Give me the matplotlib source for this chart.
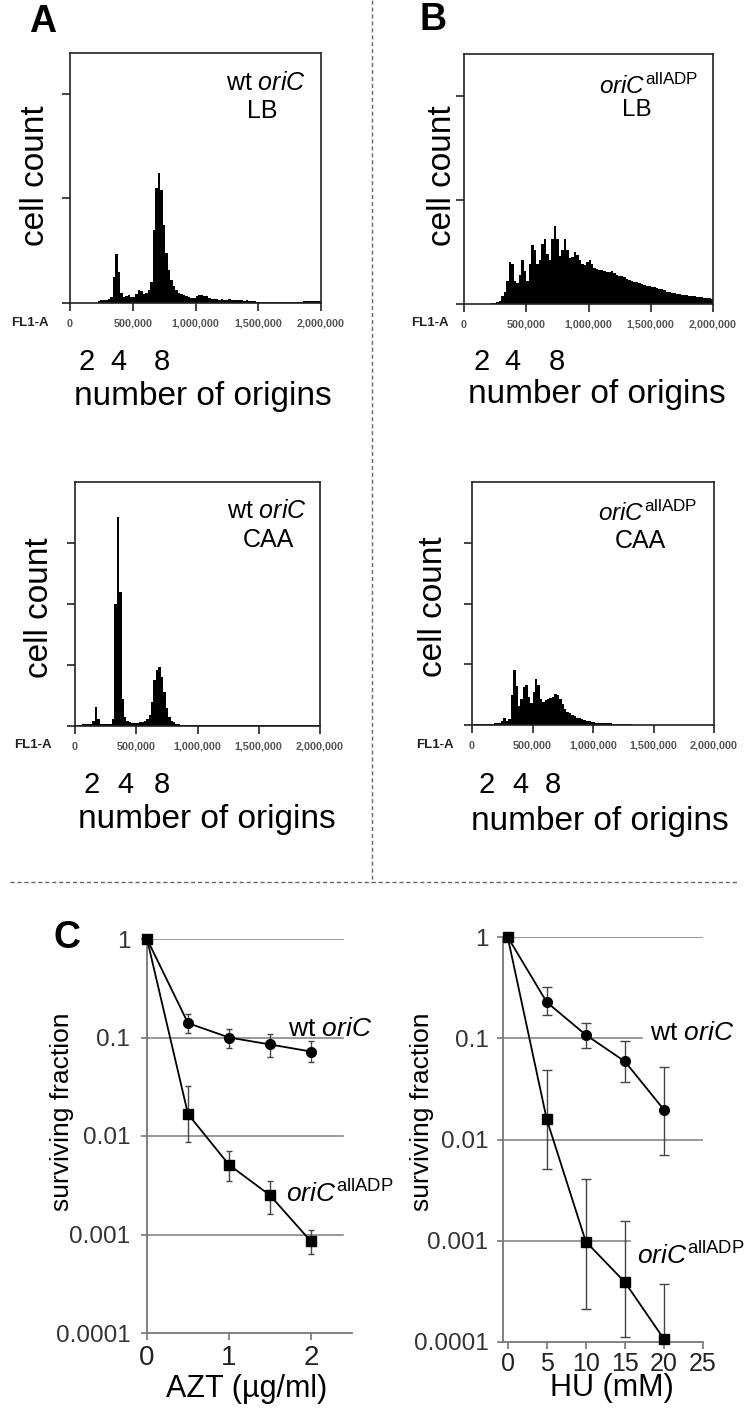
import matplotlib
matplotlib.use('Agg')
import matplotlib.pyplot as plt
import numpy as np
from matplotlib.lines import Line2D
from matplotlib.ticker import NullLocator

plt.rcParams['font.family'] = ['Liberation Sans', 'DejaVu Sans']
plt.rcParams['mathtext.fontset'] = 'custom'
plt.rcParams['mathtext.rm'] = 'Liberation Sans'
plt.rcParams['mathtext.it'] = 'Liberation Sans:italic'
plt.rcParams['mathtext.bf'] = 'Liberation Sans:bold'

# ---------------- data ----------------
FL_MIN, FL_MAX = 0, 2_000_000
FL_TICKS = [0, 500_000, 1_000_000, 1_500_000, 2_000_000]
FL_TICK_LABELS = ['0', '500,000', '1,000,000', '1,500,000', '2,000,000']

# flow cytometry histograms, 100 bins of 20,000 FL1-A units (counts in tick units x100)
A_LB = [0, 0, 0, 0, 0, 0, 0, 0, 0, 0,
        0, 2, 3, 3, 3, 4, 6, 25, 47, 30,
        10, 6, 7, 8, 6, 6, 9, 12, 11, 9,
        10, 12, 20, 70, 110, 124, 108, 75, 48, 32,
        22, 16, 12, 10, 9, 8, 7, 6, 5, 5,
        7, 8, 8, 7, 7, 5, 4, 4, 4, 3,
        4, 3, 3, 4, 3, 3, 3, 3, 3, 2,
        3, 2, 2, 2, 1, 1, 1, 1, 1, 1,
        1, 1, 1, 1, 1, 1, 1, 1, 1, 1,
        1, 1, 1, 2, 2, 2, 2, 2, 2, 2]

B_LB = [0, 0, 0, 0, 0, 0, 0, 0, 0, 0,
        0, 1, 1, 2, 3, 8, 12, 22, 40, 38,
        22, 20, 28, 42, 32, 22, 38, 57, 52, 38,
        42, 58, 62, 48, 42, 62, 75, 62, 46, 52,
        62, 52, 44, 45, 50, 47, 42, 38, 37, 40,
        42, 38, 35, 34, 33, 33, 32, 31, 31, 32,
        30, 28, 27, 27, 26, 24, 23, 22, 21, 21,
        20, 19, 18, 17, 17, 16, 16, 15, 14, 14,
        13, 12, 12, 11, 11, 10, 10, 9, 9, 9,
        8, 8, 8, 7, 7, 7, 6, 6, 6, 5]

A_CAA = [0, 2, 2, 3, 3, 3, 4, 8, 31, 12,
         4, 3, 3, 4, 4, 12, 200, 343, 220, 45,
         15, 8, 6, 5, 5, 5, 6, 7, 9, 12,
         18, 40, 75, 92, 97, 80, 55, 30, 15, 9,
         6, 4, 3, 2, 2, 1, 1, 1, 1, 1,
         1, 1, 1, 1, 1, 1, 1, 1, 1, 1,
         1, 1, 1, 1, 1, 1, 1, 1, 1, 1,
         1, 1, 1, 1, 1, 2, 2, 2, 2, 2,
         2, 2, 2, 2, 2, 2, 2, 2, 2, 2,
         2, 2, 2, 2, 2, 2, 2, 2, 1, 1]

B_CAA = [0, 1, 2, 2, 2, 2, 2, 2, 2, 3,
         3, 4, 6, 11, 6, 10, 50, 90, 65, 32,
         42, 62, 66, 46, 36, 55, 76, 66, 42, 38,
         41, 43, 44, 46, 51, 49, 42, 34, 26, 22,
         19, 17, 15, 12, 11, 10, 8, 7, 6, 5,
         5, 4, 4, 4, 3, 3, 3, 3, 2, 2,
         2, 2, 1, 1, 1, 1, 0, 0, 0, 0,
         0, 0, 0, 0, 0, 0, 0, 0, 0, 0,
         0, 0, 0, 0, 0, 0, 0, 0, 0, 0,
         0, 0, 0, 0, 0, 0, 0, 0, 0, 0]

# survival curves
AZT_x = [0, 0.5, 1.0, 1.5, 2.0]
AZT_wt = [1, 0.14, 0.10, 0.085, 0.072]
AZT_wt_lo = [1, 0.112, 0.079, 0.064, 0.056]
AZT_wt_hi = [1, 0.175, 0.121, 0.108, 0.093]
AZT_mut = [1, 0.0167, 0.0051, 0.0025, 0.00085]
AZT_mut_lo = [1, 0.0086, 0.0035, 0.0016, 0.00064]
AZT_mut_hi = [1, 0.032, 0.0071, 0.0035, 0.00112]

HU_x = [0, 5, 10, 15, 20]
HU_wt = [1, 0.227, 0.108, 0.059, 0.0197]
HU_wt_lo = [1, 0.171, 0.080, 0.037, 0.0071]
HU_wt_hi = [1, 0.32, 0.14, 0.093, 0.052]
HU_mut = [1, 0.0158, 0.00098, 0.00039, 0.000107]
HU_mut_lo = [1, 0.0051, 0.00021, 0.000113, 0.0001]
HU_mut_hi = [1, 0.049, 0.0041, 0.00155, 0.00037]

SURV_TICKS = [1e-4, 1e-3, 1e-2, 1e-1, 1]
SURV_TICK_LABELS = ['0.0001', '0.001', '0.01', '0.1', '1']
AZT_TICKS = [0, 1, 2]
HU_TICKS = [0, 5, 10, 15, 20, 25]

# ---------------- layout helpers ----------------
W, H = 750, 1417
fig = plt.figure(figsize=(W / 100, H / 100), dpi=100)


def box(x0, y0, x1, y1):
    return [x0 / W, 1 - y1 / H, (x1 - x0) / W, (y1 - y0) / H]


def ftext(x, y, s, **kw):
    return fig.text(x / W, 1 - y / H, s, **kw)


edges = np.linspace(FL_MIN, FL_MAX, len(A_LB) + 1)


def hist_panel(counts, bx, ymax, yticks):
    ax = fig.add_axes(box(*bx))
    ax.stairs(counts, edges, fill=True, color='black', linewidth=0)
    ax.set_xlim(FL_MIN, FL_MAX)
    ax.set_ylim(0, ymax)
    ax.set_xticks(FL_TICKS)
    ax.set_xticklabels(FL_TICK_LABELS, fontsize=7.8, fontweight='bold', color='#555555')
    ax.set_yticks(yticks)
    ax.set_yticklabels([])
    ax.tick_params(direction='out', length=6, width=1.2, color='#222222', pad=5.5)
    for s in ax.spines.values():
        s.set_linewidth(1.2)
        s.set_color('#222222')
    return ax


# ---------------- histograms ----------------
hist_panel(A_LB, (70, 53, 321, 303), 239, [0, 100, 200])
hist_panel(B_LB, (464, 54, 713, 304), 240, [0, 100, 200])
hist_panel(A_CAA, (75, 482, 320, 726), 400, [0, 100, 200, 300])
hist_panel(B_CAA, (472, 482, 714, 725), 400, [0, 100, 200, 300])

BIG = 24
ftext(35, 176, 'cell count', rotation=90, fontsize=BIG, ha='center', va='center')
ftext(442, 176, 'cell count', rotation=90, fontsize=BIG, ha='center', va='center')
ftext(39, 608, 'cell count', rotation=90, fontsize=BIG, ha='center', va='center')
ftext(434, 607, 'cell count', rotation=90, fontsize=BIG, ha='center', va='center')

for (x, y) in [(30, 323), (430, 323), (33, 745), (435, 745)]:
    ftext(x, y, 'FL1-A', fontsize=9.5, fontweight='bold', color='#222222', ha='center', va='center')

ORIGINS = ['2', '4', '8']
origin_pos = [((87, 118, 162), 370), ((482, 512, 557), 370),
              ((92, 125, 162), 793), ((487, 520, 553), 793)]
for xs, yb in origin_pos:
    for lab, x in zip(ORIGINS, xs):
        ftext(x, yb, lab, fontsize=21, ha='center', va='baseline')

for (x, yb) in [(203, 405), (597, 403), (207, 828), (600, 830)]:
    ftext(x, yb, 'number of origins', fontsize=BIG, ha='center', va='baseline')

WT = r'wt $\mathit{oriC}$'
MUT = r'$\mathit{oriC}^{\mathrm{allADP}}$'
ftext(266, 90, WT, fontsize=18, ha='center', va='baseline')
ftext(262, 118, 'LB', fontsize=18, ha='center', va='baseline')
ftext(649, 94, MUT, fontsize=17.5, ha='center', va='baseline')
ftext(637, 116, 'LB', fontsize=17.5, ha='center', va='baseline')
ftext(267, 518, WT, fontsize=18, ha='center', va='baseline')
ftext(268, 547, 'CAA', fontsize=18, ha='center', va='baseline')
ftext(648, 521, MUT, fontsize=17.5, ha='center', va='baseline')
ftext(640, 548, 'CAA', fontsize=18, ha='center', va='baseline')

# panel letters
ftext(43, 22, 'A', fontsize=27, fontweight='bold', ha='center', va='center')
ftext(433, 20, 'B', fontsize=27, fontweight='bold', ha='center', va='center')
ftext(67, 938, 'C', fontsize=27, fontweight='bold', ha='center', va='center')

# dashed separators
fig.add_artist(Line2D([372 / W, 372 / W], [1 - 0 / H, 1 - 880 / H], transform=fig.transFigure,
                      color='#666666', lw=1.0, linestyle=(0, (3, 2))))
fig.add_artist(Line2D([10 / W, 737 / W], [1 - 882 / H, 1 - 882 / H], transform=fig.transFigure,
                      color='#666666', lw=1.0, linestyle=(0, (3, 2))))


# ---------------- survival panels ----------------
def surv_panel(bx, x, series, xlim, xticks, capsize, grid_ext, xfs, ypad, xpad):
    ax = fig.add_axes(box(*bx))
    ax.set_yscale('log')
    ax.set_ylim(1e-4, 1)
    ax.set_xlim(*xlim)
    for val, ext in zip([1, 0.1, 0.01, 0.001], grid_ext):
        ax.axhline(val, xmin=0, xmax=ext, color='#888888', lw=1.2, zorder=1)
    for y, lo, hi, mk in series:
        y = np.array(y)
        yerr = [y - np.array(lo), np.array(hi) - y]
        ax.errorbar(x, y, yerr=yerr, fmt='none', ecolor='#444444', elinewidth=1.0,
                    capsize=capsize, capthick=1.0, zorder=2)
        ax.plot(x, y, color='black', lw=1.3, marker=mk, ms=7, zorder=3, clip_on=False)
    for side in ('top', 'right'):
        ax.spines[side].set_visible(False)
    for side in ('left', 'bottom'):
        ax.spines[side].set_color('#777777')
        ax.spines[side].set_linewidth(1.3)
    ax.set_yticks(SURV_TICKS)
    ax.set_yticklabels(SURV_TICK_LABELS, fontsize=17.5, color='#333333')
    ax.yaxis.set_minor_locator(NullLocator())
    ax.set_xticks(xticks)
    ax.set_xticklabels([str(t) for t in xticks], fontsize=xfs, color='#222222')
    ax.tick_params(axis='y', direction='out', length=4, width=1.2, color='#777777', pad=ypad)
    ax.tick_params(axis='x', direction='out', length=5, width=1.2, color='#777777', pad=xpad)
    return ax


surv_panel((147, 939, 352, 1333), AZT_x,
           [(AZT_wt, AZT_wt_lo, AZT_wt_hi, 'o'), (AZT_mut, AZT_mut_lo, AZT_mut_hi, 's')],
           (0, 2.5), AZT_TICKS, 2, [0.956, 0.956, 0.956, 0.956], 20, 8, 3.5)
surv_panel((503, 937, 703, 1342), HU_x,
           [(HU_wt, HU_wt_lo, HU_wt_hi, 'o'), (HU_mut, HU_mut_lo, HU_mut_hi, 's')],
           (-0.6, 25), HU_TICKS, 3.5, [1.0, 0.695, 1.0, 0.635], 18, 6.5, 2)

ftext(62, 1112, 'surviving fraction', rotation=90, fontsize=19, ha='center', va='center')
ftext(422, 1112, 'surviving fraction', rotation=90, fontsize=19, ha='center', va='center')
ftext(288, 1036, WT, fontsize=19, ha='left', va='baseline')
ftext(286, 1202, MUT, fontsize=19, ha='left', va='baseline')
ftext(650, 1040, WT, fontsize=19, ha='left', va='baseline')
ftext(637, 1264, MUT, fontsize=19, ha='left', va='baseline')
ftext(247, 1397, 'AZT (µg/ml)', fontsize=22, ha='center', va='baseline')
ftext(612, 1396, 'HU (mM)', fontsize=22, ha='center', va='baseline')

fig.savefig('out.png', dpi=100)
